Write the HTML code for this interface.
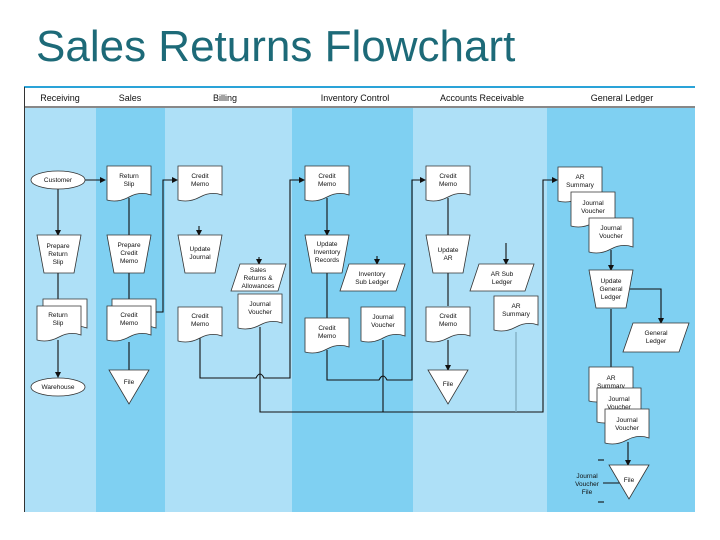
<!DOCTYPE html>
<html><head><meta charset="utf-8"><style>
html,body{margin:0;padding:0;background:#fff;width:720px;height:540px;overflow:hidden}
.t{position:absolute;left:36px;top:22px;font-family:"Liberation Sans",sans-serif;font-size:44px;color:#1d6a78;white-space:nowrap}
svg{position:absolute;left:0;top:0}
text{font-family:"Liberation Sans",sans-serif;font-size:6.5px;fill:#111;text-anchor:middle}
.h{font-size:9px}
.s{fill:#fff;stroke:#333;stroke-width:0.8}
.l{fill:none;stroke:#111;stroke-width:1.1}
</style></head><body>
<div class="t">Sales Returns Flowchart</div>
<svg width="720" height="540" viewBox="0 0 720 540">
<defs>
<path id="doc" d="M0 0H44V29Q33 25 22 31Q11 37 0 34Z"/>
<path id="trap" d="M0 0H44L37 38H7Z"/>
<path id="tri" d="M0 0H40L20 34Z"/>
<marker id="a" markerWidth="6" markerHeight="6" refX="5" refY="3" orient="auto" markerUnits="userSpaceOnUse"><path d="M0 0L6 3L0 6Z" fill="#111"/></marker>
</defs>
<rect x="24" y="108" width="72" height="404" fill="#aee0f7"/>
<rect x="96" y="108" width="69" height="404" fill="#7fd0f2"/>
<rect x="165" y="108" width="127" height="404" fill="#aee0f7"/>
<rect x="292" y="108" width="121" height="404" fill="#7fd0f2"/>
<rect x="413" y="108" width="134" height="404" fill="#aee0f7"/>
<rect x="547" y="108" width="148" height="404" fill="#7fd0f2"/>
<line x1="24" y1="87" x2="695" y2="87" stroke="#2aa3d8" stroke-width="2"/>
<line x1="24" y1="107" x2="695" y2="107" stroke="#111" stroke-width="1"/>
<line x1="24.5" y1="87" x2="24.5" y2="512" stroke="#333" stroke-width="1"/>
<text class="h" x="60" y="101">Receiving</text>
<text class="h" x="130" y="101">Sales</text>
<text class="h" x="225" y="101">Billing</text>
<text class="h" x="355" y="101">Inventory Control</text>
<text class="h" x="482" y="101">Accounts Receivable</text>
<text class="h" x="622" y="101">General Ledger</text>

<line class="l" x1="58" y1="189" x2="58" y2="235" marker-end="url(#a)"/>
<line class="l" x1="58" y1="273" x2="58" y2="303"/>
<line class="l" x1="58" y1="340" x2="58" y2="377" marker-end="url(#a)"/>
<line class="l" x1="85" y1="180" x2="105" y2="180" marker-end="url(#a)"/>
<line class="l" x1="129" y1="198" x2="129" y2="235"/>
<line class="l" x1="129" y1="273" x2="129" y2="303"/>
<line class="l" x1="129" y1="342" x2="129" y2="370"/>
<polyline class="l" points="156,312 163,312 163,180 177,180" marker-end="url(#a)"/>
<line class="l" x1="199" y1="226" x2="199" y2="235" marker-end="url(#a)"/>
<line class="l" x1="259" y1="257" x2="259" y2="264" marker-end="url(#a)"/>
<path class="l" d="M200 338V378H256Q260 370 264 378H290V180H304" marker-end="url(#a)"/>
<path class="l" d="M260 327V412H543V180H557" marker-end="url(#a)"/>
<line class="l" x1="327" y1="198" x2="327" y2="235" marker-end="url(#a)"/>
<line class="l" x1="327" y1="273" x2="327" y2="318"/>
<line class="l" x1="377" y1="256" x2="377" y2="264" marker-end="url(#a)"/>
<path class="l" d="M327 350V380H379Q383 372 387 380H412V180H425" marker-end="url(#a)"/>
<line class="l" x1="383" y1="340" x2="383" y2="412"/>
<line class="l" x1="448" y1="198" x2="448" y2="235"/>
<line class="l" x1="448" y1="273" x2="448" y2="306"/>
<line class="l" x1="448" y1="340" x2="448" y2="370" marker-end="url(#a)"/>
<line class="l" x1="506" y1="243" x2="506" y2="264" marker-end="url(#a)"/>
<line x1="516" y1="332" x2="516" y2="412" stroke="#7aa6bb" stroke-width="1.2"/>
<line class="l" x1="611" y1="250" x2="611" y2="270" marker-end="url(#a)"/>
<polyline class="l" points="630,289 661,289 661,323" marker-end="url(#a)"/>
<line class="l" x1="611" y1="309" x2="611" y2="367"/>
<line class="l" x1="628" y1="442" x2="628" y2="465" marker-end="url(#a)"/>
<line class="l" x1="603" y1="483" x2="620" y2="483"/>
<line class="l" x1="598" y1="460" x2="604" y2="460"/>
<line class="l" x1="598" y1="502" x2="604" y2="502"/>

<ellipse class="s" cx="58" cy="180" rx="27" ry="9"/><text x="58" y="182">Customer</text>
<use href="#trap" class="s" x="37" y="235"/><text x="58" y="248">Prepare</text><text x="58" y="256">Return</text><text x="58" y="264">Slip</text>
<use href="#doc" class="s" x="43" y="299"/><use href="#doc" class="s" x="37" y="306"/><text x="58" y="317">Return</text><text x="58" y="325">Slip</text>
<ellipse class="s" cx="58" cy="387" rx="27" ry="9"/><text x="58" y="389">Warehouse</text>
<use href="#doc" class="s" x="107" y="166"/><text x="129" y="178">Return</text><text x="129" y="186">Slip</text>
<use href="#trap" class="s" x="107" y="235"/><text x="129" y="247">Prepare</text><text x="129" y="255">Credit</text><text x="129" y="263">Memo</text>
<use href="#doc" class="s" x="112" y="299"/><use href="#doc" class="s" x="107" y="306"/><text x="129" y="317">Credit</text><text x="129" y="325">Memo</text>
<use href="#tri" class="s" x="109" y="370"/><text x="129" y="384">File</text>
<use href="#doc" class="s" x="178" y="166"/><text x="200" y="178">Credit</text><text x="200" y="186">Memo</text>
<use href="#trap" class="s" x="178" y="235"/><text x="200" y="251">Update</text><text x="200" y="259">Journal</text>
<path class="s" d="M240 264H286L278 291H231Z"/><text x="258" y="272">Sales</text><text x="258" y="280">Returns &amp;</text><text x="258" y="288">Allowances</text>
<use href="#doc" class="s" x="178" y="307"/><text x="200" y="318">Credit</text><text x="200" y="326">Memo</text>
<use href="#doc" class="s" x="238" y="294"/><text x="260" y="306">Journal</text><text x="260" y="314">Voucher</text>
<use href="#doc" class="s" x="305" y="166"/><text x="327" y="178">Credit</text><text x="327" y="186">Memo</text>
<use href="#trap" class="s" x="305" y="235"/><text x="327" y="246">Update</text><text x="327" y="254">Inventory</text><text x="327" y="262">Records</text>
<path class="s" d="M349 264H405L396 291H340Z"/><text x="372" y="276">Inventory</text><text x="372" y="284">Sub Ledger</text>
<use href="#doc" class="s" x="305" y="318"/><text x="327" y="330">Credit</text><text x="327" y="338">Memo</text>
<use href="#doc" class="s" x="361" y="307"/><text x="383" y="319">Journal</text><text x="383" y="327">Voucher</text>
<use href="#doc" class="s" x="426" y="166"/><text x="448" y="178">Credit</text><text x="448" y="186">Memo</text>
<use href="#trap" class="s" x="426" y="235"/><text x="448" y="252">Update</text><text x="448" y="260">AR</text>
<path class="s" d="M479 264H534L525 291H470Z"/><text x="502" y="276">AR Sub</text><text x="502" y="284">Ledger</text>
<use href="#doc" class="s" x="426" y="307"/><text x="448" y="318">Credit</text><text x="448" y="326">Memo</text>
<use href="#doc" class="s" x="494" y="296"/><text x="516" y="308">AR</text><text x="516" y="316">Summary</text>
<use href="#tri" class="s" x="428" y="370"/><text x="448" y="386">File</text>
<use href="#doc" class="s" x="558" y="167"/><text x="580" y="179">AR</text><text x="580" y="187">Summary</text>
<use href="#doc" class="s" x="571" y="192"/><text x="593" y="205">Journal</text><text x="593" y="213">Voucher</text>
<use href="#doc" class="s" x="589" y="218"/><text x="611" y="230">Journal</text><text x="611" y="238">Voucher</text>
<use href="#trap" class="s" x="589" y="270"/><text x="611" y="283">Update</text><text x="611" y="291">General</text><text x="611" y="299">Ledger</text>
<path class="s" d="M633 323H689L679 352H623Z"/><text x="656" y="335">General</text><text x="656" y="343">Ledger</text>
<use href="#doc" class="s" x="589" y="367"/><text x="611" y="380">AR</text><text x="611" y="388">Summary</text>
<use href="#doc" class="s" x="597" y="388"/><text x="619" y="401">Journal</text><text x="619" y="409">Voucher</text>
<use href="#doc" class="s" x="605" y="409"/><text x="627" y="422">Journal</text><text x="627" y="430">Voucher</text>
<use href="#tri" class="s" x="609" y="465"/><text x="629" y="482">File</text>
<text x="587" y="478">Journal</text><text x="587" y="486">Voucher</text><text x="587" y="494">File</text>
</svg>
</body></html>
